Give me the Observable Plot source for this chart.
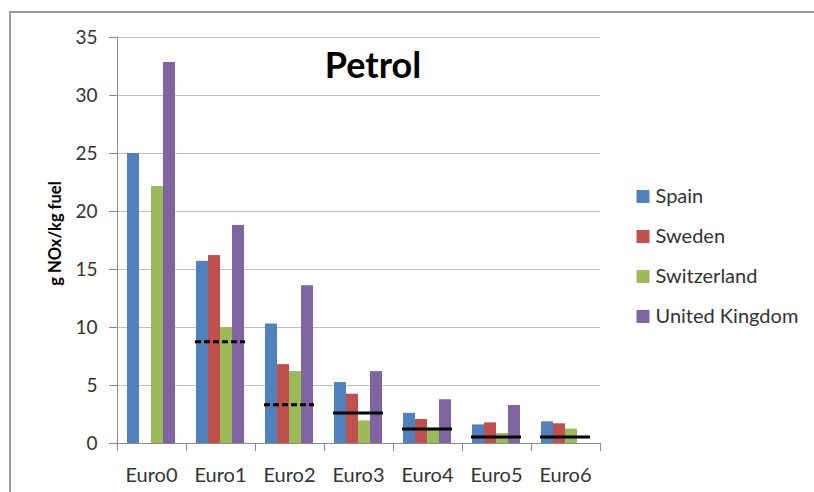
<!DOCTYPE html>
<html>
<head>
<meta charset="utf-8">
<script src="https://cdn.jsdelivr.net/npm/d3@7"></script>
<script src="https://cdn.jsdelivr.net/npm/@observablehq/plot@0.6"></script>
<style>
  html, body { margin: 0; padding: 0; background: #fff; overflow: hidden; }
  #wrap { position: relative; width: 814px; height: 492px; overflow: hidden; background: #fff; }
  #wrap > * { position: absolute; }
  #topline { left: 9px; top: 11px; width: 805px; height: 2px; background: #9a9a9a; }
  #leftline { left: 9px; top: 11px; width: 2px; height: 481px; background: #9a9a9a; }
</style>
</head>
<body>
<div id="wrap"><div id="topline"></div><div id="leftline"></div></div>
<script>
const title = "Petrol";
const yLabel = "g NOx/kg fuel";
const euros = ["Euro0", "Euro1", "Euro2", "Euro3", "Euro4", "Euro5", "Euro6"];
const countries = ["Spain", "Sweden", "Switzerland", "United Kingdom"];
const colors = ["#4f81bd", "#c0504d", "#9bbb59", "#8064a2"];
const yTicks = [0, 5, 10, 15, 20, 25, 30, 35];

const spain       = [25.0, 15.7, 10.3, 5.25, 2.6, 1.6, 1.87];
const sweden      = [null, 16.2, 6.8, 4.25, 2.07, 1.78, 1.7];
const switzerland = [22.15, 10.0, 6.2, 1.95, 1.3, 0.86, 1.24];
const uk          = [32.85, 18.8, 13.6, 6.2, 3.77, 3.28, null];

const limits      = [null, 8.77, 3.35, 2.62, 1.26, 0.57, 0.57];
const limitDashed = [false, true, true, false, false, false, false];

const series = [spain, sweden, switzerland, uk];
const bars = [];
euros.forEach((e, i) => {
  countries.forEach((c, j) => {
    const v = series[j][i];
    if (v != null) bars.push({euro: e, country: c, value: v});
  });
});
const limitRows = [];
euros.forEach((e, i) => {
  if (limits[i] != null) limitRows.push({euro: e, value: limits[i], dashed: limitDashed[i]});
});

const W = 814, H = 492;
const M = {marginLeft: 117, marginRight: 214, marginTop: 37, marginBottom: 49};
const font = "Lato, 'Open Sans', sans-serif";

const bg = Plot.plot({
  width: W, height: H, ...M,
  style: {fontFamily: font, color: "#333", background: "transparent"},
  x: {domain: [0, euros.length]},
  y: {domain: [0, 35]},
  marks: [
    Plot.gridY(yTicks, {stroke: "#c0c0c0", strokeOpacity: 1}),
    Plot.ruleX([0], {stroke: "#8a8a8a"}),
    Plot.ruleY([0], {stroke: "#8a8a8a"}),
    Plot.axisY(yTicks, {tickSize: 8, tickPadding: 12, stroke: "#8a8a8a", fill: "#333", fontSize: 19, label: null}),
    Plot.axisX(d3.range(euros.length + 1), {tickSize: 8, tickFormat: () => "", stroke: "#8a8a8a", label: null}),
    Plot.text([title], {frameAnchor: "top", dx: 14, dy: 29, fontSize: 36, fontWeight: "bold", lineAnchor: "middle", fill: "#000"}),
    Plot.text([yLabel], {frameAnchor: "left", textAnchor: "middle", lineAnchor: "middle", rotate: -90, dx: -62, dy: -7, fontSize: 16.5, fontWeight: "bold", fill: "#000"})
  ]
});
bg.style.left = "0px"; bg.style.top = "0px";

const fg = Plot.plot({
  width: W, height: H, ...M,
  style: {fontFamily: font, color: "#333", background: "transparent"},
  fx: {domain: euros, paddingInner: 0.275, paddingOuter: 0.1375, label: null},
  x: {domain: countries, padding: 0, axis: null},
  y: {domain: [0, 35], axis: null},
  color: {domain: countries, range: colors},
  marks: [
    Plot.barY(bars, {fx: "euro", x: "country", y: "value", fill: "country"}),
    Plot.ruleY(limitRows.filter(d => d.dashed), {fx: "euro", y: "value", stroke: "#000", strokeWidth: 3, strokeDasharray: "6,3"}),
    Plot.ruleY(limitRows.filter(d => !d.dashed), {fx: "euro", y: "value", stroke: "#000", strokeWidth: 3}),
    Plot.axisFx({anchor: "bottom", tickSize: 0, tickPadding: 24, fontSize: 20, fill: "#333", label: null})
  ]
});
fg.style.left = "0px"; fg.style.top = "0px";

const legend = Plot.plot({
  width: 184, height: 162,
  marginLeft: 0, marginRight: 0, marginTop: 0, marginBottom: 0,
  style: {fontFamily: font, color: "#333", background: "transparent"},
  y: {type: "band", domain: countries, padding: 0, axis: null},
  color: {domain: countries, range: colors},
  marks: [
    Plot.dot(countries, {y: d => d, fill: d => d, symbol: "square", r: 7.3, frameAnchor: "left", dx: 12.5}),
    Plot.text(countries, {y: d => d, text: d => d, frameAnchor: "left", dx: 25, textAnchor: "start", fontSize: 20, fill: "#333"})
  ]
});
legend.style.left = "630px"; legend.style.top = "175px";

const wrap = document.getElementById("wrap");
wrap.appendChild(bg);
wrap.appendChild(fg);
wrap.appendChild(legend);
</script>
</body>
</html>
